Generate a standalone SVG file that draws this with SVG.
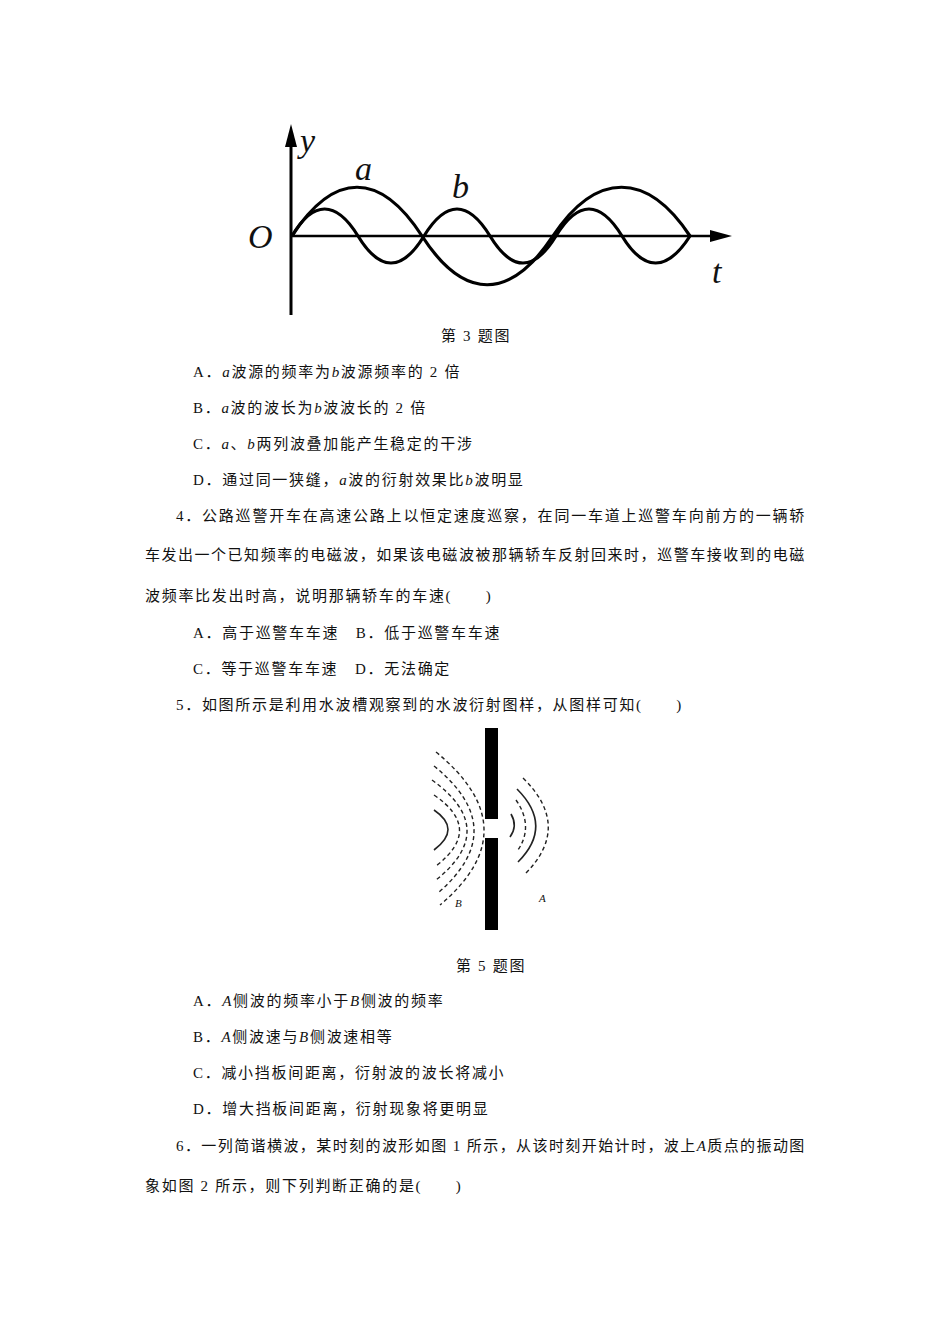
<svg xmlns="http://www.w3.org/2000/svg" width="950" height="1344" viewBox="0 0 950 1344">
<style>
text{font-family:"Liberation Serif","Noto Sans CJK SC",serif;font-size:15px;fill:#111;letter-spacing:1.7px}
.i{font-style:italic}
.g{letter-spacing:0}
.c{fill:none;stroke:#000;stroke-width:3.2}
.d{fill:none;stroke:#222;stroke-width:1.4;stroke-dasharray:4 3}
.s{fill:none;stroke:#222;stroke-width:1.6}
</style>
<rect width="950" height="1344" fill="#fff"/>
<g id="fig3">
<line x1="291" y1="315" x2="291" y2="140" stroke="#000" stroke-width="3"/>
<polygon points="291,124 285,147 297,147"/>
<line x1="291" y1="236" x2="715" y2="236" stroke="#000" stroke-width="2.5"/>
<polygon points="732,236 710,230 710,242"/>
<path class="c" d="M292,236 C334,171 380,171 422,236 S510,301 553,236 S647,171 690,236"/>
<path class="c" d="M292,236 C313,200 336,200 358,236 S402,272 424,236 S468,200 490,236 S534,272 556,236 S600,200 622,236 S667,272 690,236"/>
<text x="300" y="152" class="i g" style="font-size:34px">y</text>
<text x="355" y="180" class="i g" style="font-size:34px">a</text>
<text x="452" y="198" class="i g" style="font-size:34px">b</text>
<text x="248" y="248" class="i g" style="font-size:34px">O</text>
<text x="712" y="283" class="i g" style="font-size:34px">t</text>
</g>
<text x="476" y="341" text-anchor="middle">第 3 题图</text>
<text x="193" y="377">A．<tspan class="i">a</tspan>波源的频率为<tspan class="i">b</tspan>波源频率的 2 倍</text>
<text x="193" y="413">B．<tspan class="i">a</tspan>波的波长为<tspan class="i">b</tspan>波波长的 2 倍</text>
<text x="193" y="449">C．<tspan class="i">a</tspan>、<tspan class="i">b</tspan>两列波叠加能产生稳定的干涉</text>
<text x="193" y="485">D．通过同一狭缝，<tspan class="i">a</tspan>波的衍射效果比<tspan class="i">b</tspan>波明显</text>
<text x="176" y="521" textLength="630" lengthAdjust="spacing">4．公路巡警开车在高速公路上以恒定速度巡察，在同一车道上巡警车向前方的一辆轿</text>
<text x="145" y="560" textLength="661" lengthAdjust="spacing">车发出一个已知频率的电磁波，如果该电磁波被那辆轿车反射回来时，巡警车接收到的电磁</text>
<text x="145" y="601">波频率比发出时高，说明那辆轿车的车速(　　)</text>
<text x="193" y="638">A．高于巡警车车速　B．低于巡警车车速</text>
<text x="193" y="674">C．等于巡警车车速　D．无法确定</text>
<text x="176" y="710">5．如图所示是利用水波槽观察到的水波衍射图样，从图样可知(　　)</text>
<g id="fig5">
<rect x="485" y="728" width="13" height="91"/>
<rect x="485" y="838" width="13" height="92"/>
<path class="s" d="M434,810 Q462,829 434,850"/>
<path class="d" d="M434,795 Q484,829 436,866"/>
<path class="d" d="M432,780 Q500,829 436,880"/>
<path class="d" d="M434,766 Q512,829 438,893"/>
<path class="d" d="M436,752 Q530,829 440,905"/>
<path class="s" d="M511,814 Q518,826 510,837"/>
<path class="d" d="M516,800 Q534,826 518,850"/>
<path class="s" d="M517,789 Q554,826 518,862"/>
<path class="d" d="M523,778 Q572,826 526,873"/>
<text x="455" y="907" class="i g" style="font-size:11px">B</text>
<text x="539" y="902" class="i g" style="font-size:11px">A</text>
</g>
<text x="491" y="971" text-anchor="middle">第 5 题图</text>
<text x="193" y="1006">A．<tspan class="i">A</tspan>侧波的频率小于<tspan class="i">B</tspan>侧波的频率</text>
<text x="193" y="1042">B．<tspan class="i">A</tspan>侧波速与<tspan class="i">B</tspan>侧波速相等</text>
<text x="193" y="1078">C．减小挡板间距离，衍射波的波长将减小</text>
<text x="193" y="1114">D．增大挡板间距离，衍射现象将更明显</text>
<text x="176" y="1151" textLength="630" lengthAdjust="spacing">6．一列简谐横波，某时刻的波形如图 1 所示，从该时刻开始计时，波上<tspan class="i">A</tspan>质点的振动图</text>
<text x="145" y="1191">象如图 2 所示，则下列判断正确的是(　　)</text>
</svg>
